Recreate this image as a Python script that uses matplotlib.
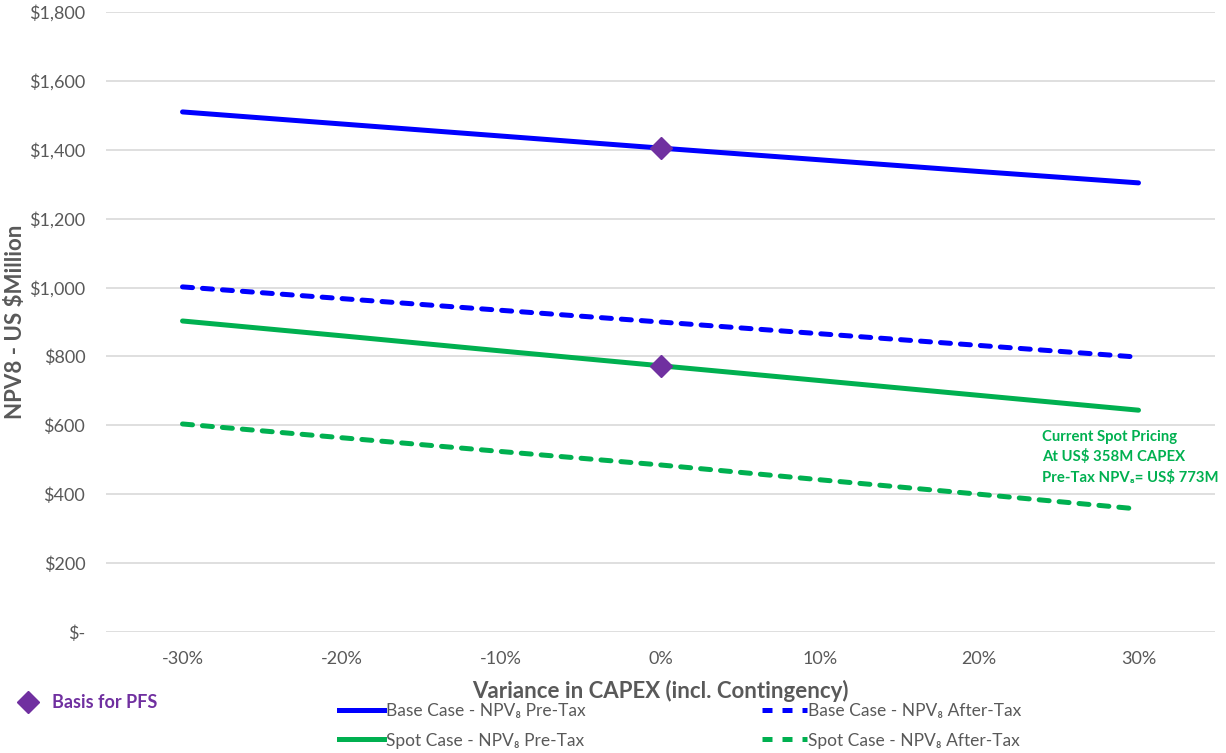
import matplotlib.pyplot as plt
from matplotlib.lines import Line2D
from matplotlib.ticker import FuncFormatter

plt.rcParams['font.family'] = ['Lato', 'DejaVu Sans']

# CAPEX variance (%) and NPV8 (US$M)
variance = [-30, -20, -10, 0, 10, 20, 30]
base_pre_tax = [1510, 1475, 1440, 1405, 1371, 1337, 1304]
base_after_tax = [1002, 968, 934, 900, 866, 832, 798]
spot_pre_tax = [903, 860, 816, 773, 730, 687, 644]
spot_after_tax = [604, 564, 524, 485, 442, 400, 357]
pfs_x = [0, 0]
pfs_y = [1405, 773]

blue = '#0000FF'
green = '#00B050'
purple = '#7030A0'
grey = '#595959'
dash = (0, (2.0, 2.0))

fig = plt.figure(figsize=(12.26, 7.53), dpi=100)
ax = fig.add_axes([0.0865, 0.1607, 0.9045, 0.8233])

lw = 3.6
ax.plot(variance, base_pre_tax, color=blue, lw=lw, solid_capstyle='round')
ax.plot(variance, base_after_tax, color=blue, lw=lw, ls=dash, dash_capstyle='round')
ax.plot(variance, spot_pre_tax, color=green, lw=lw, solid_capstyle='round')
ax.plot(variance, spot_after_tax, color=green, lw=lw, ls=dash, dash_capstyle='round')
ax.plot(pfs_x, pfs_y, ls='none', marker='D', ms=11, color=purple, zorder=5)

ax.set_xlim(-34.8, 34.8)
ax.set_ylim(0, 1800)
ax.set_xticks(variance)
ax.set_yticks(range(0, 1801, 200))
ax.xaxis.set_major_formatter(FuncFormatter(lambda v, p: f"{v:.0f}%"))
ax.yaxis.set_major_formatter(FuncFormatter(lambda v, p: "$-" if v == 0 else f"${v:,.0f}"))
ax.grid(axis='y', color='#D9D9D9', lw=1.2)
ax.set_axisbelow(True)
for s in ax.spines.values():
    s.set_visible(False)
ax.tick_params(length=0, labelsize=13, labelcolor=grey)
ax.tick_params(axis='y', pad=15)
ax.tick_params(axis='x', pad=14)

ax.set_ylabel("NPV8 - US $Million", fontsize=16, fontweight='bold', color=grey)
ax.yaxis.set_label_coords(-0.072, 0.5)
ax.set_xlabel("Variance in CAPEX (incl. Contingency)", fontsize=16, fontweight='bold',
              color=grey, labelpad=9)

fig.text(1042 / 1226, 1 - 430 / 753,
         "Current Spot Pricing\nAt US$ 358M CAPEX\nPre-Tax NPV₈= US$ 773M",
         fontsize=10.7, fontweight='bold', color=green, va='top', ha='left',
         linespacing=1.45, family=['Lato', 'DejaVu Sans'])

# purple marker legend
fig.legend(handles=[Line2D([], [], ls='none', marker='D', ms=11, color=purple)],
           labels=["Basis for PFS"], loc='center left',
           bbox_to_anchor=(0.001, 1 - 703 / 753),
           frameon=False, prop={'weight': 'bold', 'size': 13}, labelcolor=purple,
           handlelength=1.2, handletextpad=0.7)

handles = [
    Line2D([], [], color=blue, lw=lw),
    Line2D([], [], color=green, lw=lw),
    Line2D([], [], color=blue, lw=lw, ls=dash),
    Line2D([], [], color=green, lw=lw, ls=dash),
]
labels = ["Base Case - NPV₈ Pre-Tax", "Spot Case - NPV₈ Pre-Tax",
          "Base Case - NPV₈ After-Tax", "Spot Case - NPV₈ After-Tax"]
fig.legend(handles=handles, labels=labels, ncol=2, loc='center left',
           bbox_to_anchor=(0.2636, 1 - 726 / 753), frameon=False, fontsize=12.5,
           labelcolor=grey, handlelength=2.6, handletextpad=0.1, columnspacing=10.15,
           labelspacing=0.75)

fig.savefig('out.png', dpi=100)
